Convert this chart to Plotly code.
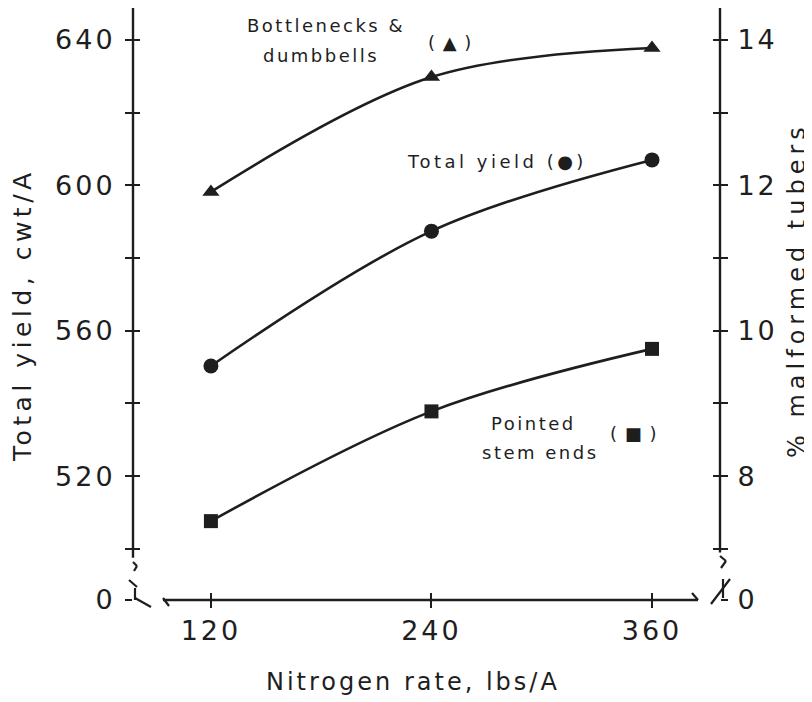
import plotly.graph_objects as go

# ---- data ----
nitrogen = [120, 240, 360]
total_yield = [550.3, 587.4, 607.0]          # cwt/A (left axis)
bottlenecks = [11.91, 13.49, 13.89]          # % malformed (right axis)
pointed = [7.38, 8.89, 9.75]                 # % malformed (right axis)

left_ticks = [520, 560, 600, 640]
left_minor = [500, 540, 580, 620]
right_ticks = [8, 10, 12, 14]
right_minor = [7, 9, 11, 13]
x_ticks = [120, 240, 360]

# ---- geometry (page pixel coords; the page body has an 8px margin) ----
OFF = 8
W, H = 812 - OFF, 702 - OFF
L, R, T, B = 133, 720, 8, 600          # plot box in page coords
XR = [77.6, 397.0]
YR = [485.9, 648.8]
def pct(v):
    return 8 + (v - 520) / 20.0
Y2R = [pct(YR[0]), pct(YR[1])]

INK = "#1e1e1e"
FONT = "DejaVu Sans"

def P(px, py):
    return (px - L) / (R - L), (B - py) / (B - T)

def sp(s, ls):
    return "<span style='letter-spacing:%spx'>%s</span>" % (ls, s)

fig = go.Figure()

line = dict(color=INK, width=2.6, shape="spline", smoothing=1.0)
fig.add_trace(go.Scatter(x=nitrogen, y=bottlenecks, yaxis="y2", mode="lines+markers",
                         line=line, marker=dict(symbol="triangle-up", size=15, color=INK),
                         showlegend=False, hoverinfo="skip"))
fig.add_trace(go.Scatter(x=nitrogen, y=total_yield, yaxis="y", mode="lines+markers",
                         line=line, marker=dict(symbol="circle", size=15, color=INK),
                         showlegend=False, hoverinfo="skip"))
fig.add_trace(go.Scatter(x=nitrogen, y=pointed, yaxis="y2", mode="lines+markers",
                         line=line, marker=dict(symbol="square", size=14, color=INK),
                         showlegend=False, hoverinfo="skip"))
# invisible helpers so overlay tick axes exist
fig.add_trace(go.Scatter(x=[None], y=[None], xaxis="x2", yaxis="y3", showlegend=False, hoverinfo="skip"))
fig.add_trace(go.Scatter(x=[None], y=[None], xaxis="x2", yaxis="y4", showlegend=False, hoverinfo="skip"))

tickfont = dict(family=FONT, size=27, color=INK)
common = dict(showgrid=False, zeroline=False, showline=False, ticklen=7, tickwidth=2.2,
              tickcolor=INK, fixedrange=True, automargin=False)

ylabels_vals = [YR[0]] + left_ticks
ylabels_text = [sp(t, 3) for t in ["0"] + [str(v) for v in left_ticks]]
y2labels_vals = [Y2R[0]] + right_ticks
y2labels_text = [sp(t, 3) for t in ["0"] + [str(v) for v in right_ticks]]
xlabels_text = [sp(str(v), 3) for v in x_ticks]

fig.update_layout(
    width=W, height=H,
    margin=dict(l=L - OFF, r=W - (R - OFF), t=T - OFF, b=H - (B - OFF), pad=0),
    plot_bgcolor="white", paper_bgcolor="white",
    xaxis=dict(range=XR, tickvals=x_ticks, ticktext=xlabels_text, ticks="outside",
               tickfont=tickfont, **common),
    xaxis2=dict(range=XR, overlaying="x", anchor="y3", side="bottom", tickvals=x_ticks,
                ticks="inside", showticklabels=False, **common),
    yaxis=dict(range=YR, tickvals=ylabels_vals, ticktext=ylabels_text, ticks="outside",
               tickfont=tickfont, ticklabelstandoff=4,
               minor=dict(tickvals=left_minor, ticks="outside", ticklen=7, tickwidth=2.2, tickcolor=INK),
               **common),
    yaxis3=dict(range=YR, overlaying="y", side="left", anchor="x2", tickvals=ylabels_vals,
                ticks="inside", showticklabels=False,
                minor=dict(tickvals=left_minor, ticks="inside", ticklen=7, tickwidth=2.2, tickcolor=INK),
                **common),
    yaxis2=dict(range=Y2R, overlaying="y", side="right", tickvals=y2labels_vals,
                ticktext=y2labels_text, ticks="outside", tickfont=tickfont, ticklabelstandoff=4,
                minor=dict(tickvals=right_minor, ticks="outside", ticklen=7, tickwidth=2.2, tickcolor=INK),
                **common),
    yaxis4=dict(range=Y2R, overlaying="y", side="right", anchor="x2", tickvals=y2labels_vals,
                ticks="inside", showticklabels=False,
                minor=dict(tickvals=right_minor, ticks="inside", ticklen=7, tickwidth=2.2, tickcolor=INK),
                **common),
)

# ---- axis lines and breaks ----
shapes = []
lw = dict(color=INK, width=2.4)
shapes.append(dict(type="line", xref="paper", yref="y", x0=0, x1=0, y0=497.5, y1=YR[1], line=lw))
shapes.append(dict(type="line", xref="paper", yref="y2", x0=1, x1=1, y0=pct(499.0), y1=Y2R[1], line=lw))
shapes.append(dict(type="line", xref="x", yref="paper", x0=93.9, x1=385.0, y0=0, y1=0, line=lw))

def seg(p1, p2, w=2.2):
    a = P(*p1); b = P(*p2)
    shapes.append(dict(type="line", xref="paper", yref="paper", x0=a[0], y0=a[1], x1=b[0], y1=b[1],
                       line=dict(color=INK, width=w)))

# left axis break
seg((133, 562), (137, 566)); seg((137, 566), (134, 571))
seg((129, 580), (137, 587))
seg((135, 588), (135, 600)); seg((135, 598), (151, 607))
# x axis start / end hooks
seg((163, 598), (169, 606))
seg((692, 593), (698, 600))
# right axis break
seg((720, 556), (726, 561)); seg((726, 561), (721, 568))
seg((711, 604), (730, 579)); seg((723, 579), (723, 598))

fig.update_layout(shapes=shapes)

# ---- text ----
ann = []
def txt(s, px, py, size=19, angle=0, ls=0):
    x, y = P(px, py)
    ann.append(dict(text=sp(s, ls) if ls else s, x=x, y=y, xref="paper", yref="paper",
                    showarrow=False, xanchor="center", yanchor="middle", textangle=angle,
                    font=dict(family=FONT, size=size, color=INK)))

txt("Bottlenecks &", 326, 25, 18, ls=2.5)
txt("dumbbells", 321, 55, 18, ls=2.5)
txt("( ▲ )", 450, 42, 18, ls=1)
txt("Total yield (●)", 497, 162, 18, ls=3.5)
txt("Pointed", 533, 423, 18, ls=2.5)
txt("stem ends", 540, 452, 18, ls=2.5)
txt("( ■ )", 634, 434, 18, ls=1)
txt("Nitrogen rate, lbs/A", 413, 682, 24, ls=3)
txt("Total yield, cwt/A", 22, 315, 25, angle=-90, ls=4.5)
txt("% malformed tubers", 797, 290, 24, angle=-90, ls=5)

fig.update_layout(annotations=ann)

fig.write_html("out.html")
